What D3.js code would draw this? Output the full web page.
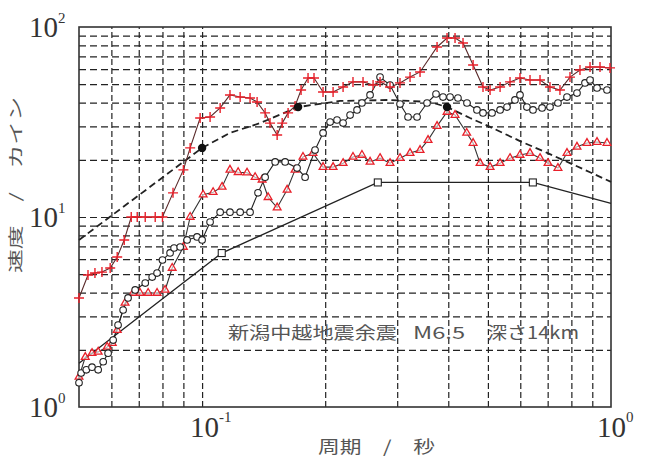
<!DOCTYPE html>
<html><head><meta charset="utf-8">
<script src="https://cdn.jsdelivr.net/npm/d3@7"></script>
<style>
html,body{margin:0;padding:0;background:#fff;}
svg{display:block;}
</style></head>
<body>
<svg id="chart" width="647" height="457"></svg>
<script>
// ---- data (period in s, velocity in kine) ----
const crossPeriod = [0.05,0.0526,0.0547,0.0569,0.0596,0.062,0.0645,0.0671,0.0694,0.0726,0.0768,0.08,0.0849,0.09,0.0935,0.0989,0.1046,0.1107,0.117,0.1239,0.131,0.1363,0.1426,0.1466,0.1526,0.157,0.1623,0.1688,0.1746,0.1816,0.1878,0.1976,0.2091,0.2212,0.2339,0.2475,0.2619,0.2724,0.2881,0.3048,0.3225,0.3412,0.3755,0.3972,0.4155,0.4346,0.46,0.4864,0.5061,0.5355,0.5663,0.599,0.6338,0.6705,0.7092,0.7502,0.7938,0.8397,0.8886,0.94,0.9944];
const crossVel = [3.75,4.95,5.07,5.13,5.39,6.16,7.57,10,10,10,10,10,13.4,17.7,23.1,33.2,33.6,37.5,43.9,42.8,42.3,40.3,35.3,31.2,27.0,31.2,35.3,38.4,46.6,53.9,53.9,45.5,45.5,48.3,51.4,51.4,49.5,51.4,48.3,50.8,54.5,58.0,78.5,87.5,87.5,82.4,63.1,48.3,46.6,48.3,51.4,53.9,52.6,52.6,48.3,46.6,54.5,59.4,61.6,61.6,60.9];

const circlePeriod = [0.05,0.0506,0.0521,0.0538,0.0557,0.0573,0.0589,0.0606,0.0623,0.0641,0.0659,0.0686,0.0726,0.0755,0.0776,0.08,0.0835,0.0854,0.0884,0.0919,0.0972,0.1,0.1046,0.1107,0.117,0.1239,0.131,0.137,0.1426,0.1509,0.1596,0.1707,0.1786,0.1889,0.1976,0.2056,0.2138,0.2212,0.2301,0.2393,0.246,0.2575,0.2724,0.2881,0.3048,0.3189,0.3355,0.3549,0.3733,0.3883,0.404,0.4224,0.4444,0.4701,0.4864,0.5117,0.5355,0.5568,0.5823,0.599,0.6228,0.6445,0.6783,0.7092,0.7418,0.7805,0.8257,0.8637,0.8886,0.9243,0.9777];
const circleVel = [1.34,1.51,1.57,1.62,1.57,1.73,1.92,2.25,2.70,3.24,3.75,4.13,4.49,4.83,5.07,5.94,6.47,6.87,6.95,7.57,7.85,7.57,9.41,10.6,10.6,10.6,10.6,13.4,16.2,19.5,19.5,18.1,16.2,22.5,27.7,31.6,32.4,31.2,34.4,36.6,39.8,43.9,54.5,49.5,39.3,33.6,33.6,39.8,44.4,42.8,42.8,42.3,39.8,36.6,35.3,35.3,36.6,37.9,41.3,43.9,37.9,36.6,37.5,37.9,39.8,42.8,44.9,50.8,52.6,47.8,46.6];

const trianglePeriod = [0.05,0.0518,0.0538,0.0557,0.0586,0.0603,0.062,0.0648,0.0678,0.0705,0.0738,0.0776,0.0812,0.0845,0.09,0.0935,0.1006,0.1064,0.1119,0.117,0.1225,0.1288,0.1348,0.1402,0.145,0.1526,0.1614,0.1688,0.1765,0.1867,0.1976,0.2091,0.2212,0.2339,0.246,0.2575,0.2724,0.2881,0.3048,0.3225,0.3412,0.3569,0.3755,0.3972,0.4155,0.4437,0.46,0.4783,0.5061,0.5355,0.5663,0.599,0.6338,0.6705,0.7015,0.7418,0.7805,0.8257,0.8735,0.9243,0.9777];
const triangleVel = [1.44,1.83,1.92,1.95,2.07,2.17,2.54,3.53,3.98,3.98,3.98,3.98,4.13,5.39,6.95,10,13.1,13.5,14.4,17.7,17.2,17.1,16.2,15.7,12.7,11.2,13.9,17.7,20.7,21.7,18.3,18.3,19.2,20.7,21.2,19.5,20.4,19.2,20.4,21.7,22.5,25.4,30.1,35.7,34.4,27.7,24.5,19.2,18.3,19.2,20.4,21.2,21.7,20.4,19.2,18.1,21.7,23.4,24.5,24.8,24.5];

const dashedPeriod = [0.05,0.1,0.117,0.1386,0.1717,0.2174,0.2881,0.3609,0.3972,0.4521,0.5061,0.599,0.7,0.7938,0.8886,1.0];
const dashedVel = [7.57,23.1,27.7,31.2,37.9,40.8,41.3,40.3,37.9,33.2,29.8,25.1,21.7,19.2,17.2,15.3];
const dashedMarkerIdx = [1,4,8];

const designPeriod = [0.05,0.1117,0.269,0.644,1.0];
const designVel = [1.7,6.46,15.2,15.2,11.8];
const designMarkerIdx = [1,2,3];

const xGridTicks = [0.06,0.07,0.08,0.09,0.1,0.2,0.3,0.4,0.5,0.6,0.7,0.8,0.9];
const yGridTicks = [2,3,4,5,6,7,8,9,10,20,30,40,50,60,70,80,90];
const xTickLabels = [{v:0.1, base:"10", sup:"-1"},{v:1, base:"10", sup:"0"}];
const yTickLabels = [{v:100, base:"10", sup:"2"},{v:10, base:"10", sup:"1"},{v:1, base:"10", sup:"0"}];
const xTitle = "周期　/　秒";
const yTitle = "速度　/　カイン";
const noteParts = ["新潟中越地震余震","M6.5","深さ14km"];

// ---- layout ----
const L = 79, R = 611, T = 27, B = 407;
const svg = d3.select("#chart");
const x = d3.scaleLog().domain([0.05, 1]).range([L, R]);
const y = d3.scaleLog().domain([1, 100]).range([B, T]);

// grid
const gx = svg.append("g").attr("transform", `translate(0,${B})`)
  .call(d3.axisBottom(x).tickValues(xGridTicks).tickSize(-(B - T)).tickFormat(""));
gx.select(".domain").remove();
gx.selectAll("line").attr("stroke", "#222").attr("stroke-width", 1.2).attr("stroke-dasharray", "6,3");

const gy = svg.append("g").attr("transform", `translate(${L},0)`)
  .call(d3.axisLeft(y).tickValues(yGridTicks).tickSize(-(R - L)).tickFormat(""));
gy.select(".domain").remove();
gy.selectAll("line").attr("stroke", "#222").attr("stroke-width", 1.2).attr("stroke-dasharray", "7,4");

// frame
svg.append("rect").attr("x", L).attr("y", T).attr("width", R - L).attr("height", B - T)
  .attr("fill", "none").attr("stroke", "#333").attr("stroke-width", 1.6);

const zip = (p, v) => p.map((d, i) => ({p: d, v: v[i]}));
const line = d3.line().x(d => x(d.p)).y(d => y(d.v));
const plot = svg.append("g");

const RED = "#e8202a";

// design spectrum
const design = zip(designPeriod, designVel);
plot.append("path").attr("d", line(design)).attr("fill", "none").attr("stroke", "#222").attr("stroke-width", 1.3);

// dashed
const dashed = zip(dashedPeriod, dashedVel);
plot.append("path").attr("d", line(dashed)).attr("fill", "none").attr("stroke", "#222")
  .attr("stroke-width", 1.8).attr("stroke-dasharray", "7,4");

// triangle series
const tri = zip(trianglePeriod, triangleVel);
plot.append("path").attr("d", line(tri)).attr("fill", "none").attr("stroke", "#333").attr("stroke-width", 1.1);
// circle series
const cir = zip(circlePeriod, circleVel);
plot.append("path").attr("d", line(cir)).attr("fill", "none").attr("stroke", "#222").attr("stroke-width", 1.1);
// cross series
const crs = zip(crossPeriod, crossVel);
plot.append("path").attr("d", line(crs)).attr("fill", "none").attr("stroke", "#5a2a2a").attr("stroke-width", 1.1);

// markers
plot.selectAll(".tri").data(tri).join("path").attr("class", "tri")
  .attr("d", d3.symbol(d3.symbolTriangle, 26)())
  .attr("transform", d => `translate(${x(d.p)},${y(d.v)})`)
  .attr("fill", "#fff").attr("fill-opacity", 0.6).attr("stroke", RED).attr("stroke-width", 1.3);

plot.selectAll(".cir").data(cir).join("circle").attr("class", "cir")
  .attr("cx", d => x(d.p)).attr("cy", d => y(d.v)).attr("r", 3.3)
  .attr("fill", "#fff").attr("stroke", "#222").attr("stroke-width", 1.1);

plot.selectAll(".crs").data(crs).join("path").attr("class", "crs")
  .attr("d", "M-5,0H5M0,-5V5")
  .attr("transform", d => `translate(${x(d.p)},${y(d.v)})`)
  .attr("stroke", RED).attr("stroke-width", 1.4).attr("fill", "none");

plot.selectAll(".dmk").data(dashedMarkerIdx.map(i => dashed[i])).join("circle").attr("class", "dmk")
  .attr("cx", d => x(d.p)).attr("cy", d => y(d.v)).attr("r", 4.2).attr("fill", "#111");

plot.selectAll(".smk").data(designMarkerIdx.map(i => design[i])).join("rect").attr("class", "smk")
  .attr("x", d => x(d.p) - 3.5).attr("y", d => y(d.v) - 3.5).attr("width", 7).attr("height", 7)
  .attr("fill", "#fff").attr("stroke", "#222").attr("stroke-width", 1.1);

// tick labels
const serif = "'Liberation Serif','DejaVu Serif',serif";
xTickLabels.forEach(t => {
  const tx = svg.append("text").attr("x", x(t.v) - (t.v === 1 ? 14 : 12)).attr("y", B + 30)
    .attr("font-family", serif).attr("font-size", 29).attr("fill", "#333");
  tx.append("tspan").text(t.base);
  tx.append("tspan").attr("dy", -15).attr("font-size", 15).text(t.sup);
});
yTickLabels.forEach(t => {
  const ty = svg.append("text").attr("x", 29).attr("y", y(t.v) + 10)
    .attr("font-family", serif).attr("font-size", 29).attr("fill", "#333");
  ty.append("tspan").text(t.base);
  ty.append("tspan").attr("dy", -14).attr("font-size", 15).text(t.sup);
});

// titles
const jp = "'Noto Sans CJK JP','Noto Sans CJK SC',sans-serif";
svg.append("text").attr("x", 318).attr("y", 453).attr("font-family", jp).attr("font-size", 17)
  .attr("fill", "#555").attr("textLength", 117).attr("lengthAdjust", "spacingAndGlyphs").text(xTitle);
svg.append("text").attr("transform", "translate(21,273) rotate(-90)").attr("font-family", jp)
  .attr("font-size", 15).attr("fill", "#555").attr("textLength", 176).attr("lengthAdjust", "spacingAndGlyphs").text(yTitle);

// annotation
const notePos = [[228, 169], [413, 52], [487, 92]];
noteParts.forEach((s, i) => {
  svg.append("text").attr("x", notePos[i][0]).attr("y", 339).attr("font-family", jp)
    .attr("font-size", 17).attr("fill", "#555")
    .attr("textLength", notePos[i][1]).attr("lengthAdjust", "spacingAndGlyphs").text(s);
});
</script>
</body></html>
